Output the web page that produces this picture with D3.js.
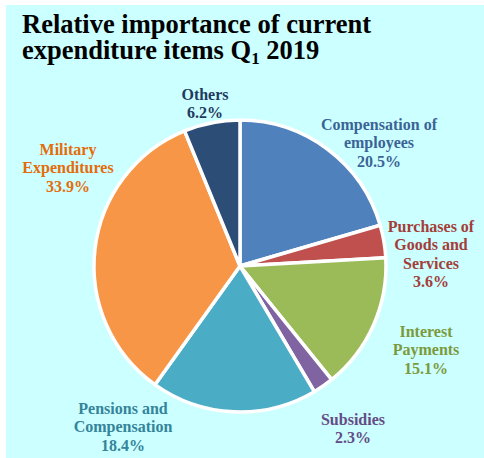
<!DOCTYPE html>
<html>
<head>
<meta charset="utf-8">
<script src="https://cdn.jsdelivr.net/npm/d3@7"></script>
<style>
  html, body { margin: 0; padding: 0; background: #ffffff; }
  svg { display: block; }
  .serif { font-family: "Liberation Serif", Tinos, "Times New Roman", Times, serif; font-weight: bold; }
</style>
</head>
<body>
<script>
// Current expenditure shares, first quarter 2019 (%)
const categories = [
  "Compensation of employees",
  "Purchases of Goods and Services",
  "Interest Payments",
  "Subsidies",
  "Pensions and Compensation",
  "Military Expenditures",
  "Others"
];
const shares = [20.5, 3.6, 15.1, 2.3, 18.4, 33.9, 6.2];
const labelLines = [
  ["Compensation of", "employees"],
  ["Purchases of", "Goods and", "Services"],
  ["Interest", "Payments"],
  ["Subsidies"],
  ["Pensions and", "Compensation"],
  ["Military", "Expenditures"],
  ["Others"]
];
const sliceColors = ["#4f81bd", "#c0504d", "#9bbb59", "#8064a2", "#4bacc6", "#f79646", "#2c4d75"];
const labelColors = ["#3b6496", "#a33d3a", "#7b9a3c", "#654c85", "#34849b", "#e46c0a", "#1f3a60"];

const W = 484, H = 458;
const svg = d3.select("body").append("svg").attr("width", W).attr("height", H);

// panel
svg.append("rect").attr("x", 6).attr("y", 5).attr("width", W - 6).attr("height", H - 5)
  .attr("fill", "#ccffff");

// title: two lines, with a subscript quarter number
svg.append("text").attr("class", "serif")
  .attr("x", 22).attr("y", 33).attr("font-size", 26.5).attr("fill", "#000")
  .text("Relative importance of current");
const t2 = svg.append("text").attr("class", "serif")
  .attr("x", 22).attr("y", 59).attr("font-size", 26.5).attr("fill", "#000");
t2.append("tspan").text("expenditure items Q");
t2.append("tspan").attr("font-size", 17).attr("dy", 5).text("1");
t2.append("tspan").attr("dy", -5).text(" 2019");

// pie
const cx = 240, cy = 266, R = 146;
const pie = d3.pie().sort(null).value(d => d)(shares);
const arc = d3.arc().innerRadius(0).outerRadius(R);

const g = svg.append("g").attr("transform", `translate(${cx},${cy})`);
g.selectAll("path").data(pie).join("path")
  .attr("d", arc)
  .attr("fill", (d, i) => sliceColors[i])
  .attr("stroke", "#ffffff")
  .attr("stroke-width", 3.5)
  .attr("stroke-linejoin", "round");

// label anchor positions (centre of text block, first line baseline)
const labelPos = [
  [379, 129.5], [431, 231.5], [426, 336.5], [353, 424.5], [123, 413.5], [68, 154.5], [205, 99.5]
];
const lineH = 18.5;

pie.forEach((d, i) => {
  const [lx, ly] = labelPos[i];
  const t = svg.append("text").attr("class", "serif")
    .attr("font-size", 16)
    .attr("fill", labelColors[i]).attr("text-anchor", "middle");
  const lines = labelLines[i].concat([d3.format(".1f")(shares[i]) + "%"]);
  lines.forEach((s, k) => {
    t.append("tspan").attr("x", lx).attr("y", ly + k * lineH).text(s);
  });
});
</script>
</body>
</html>
